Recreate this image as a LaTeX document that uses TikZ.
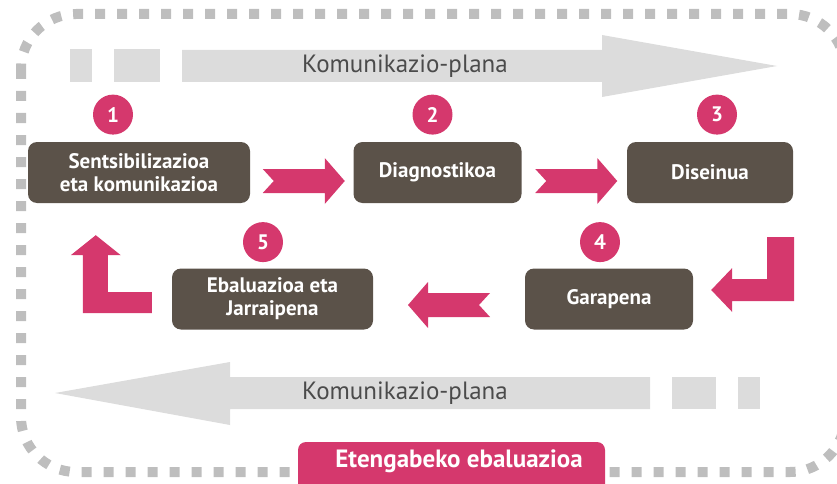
\documentclass[tikz,border=0pt]{standalone}
\usepackage{fontspec}
\setmainfont{PT Sans}
\usepackage{tikz}
\usetikzlibrary{positioning, calc}
\definecolor{rosa}{RGB}{213,56,109}
\definecolor{marroi}{RGB}{91,82,73}
\definecolor{grisa}{RGB}{220,220,220}
\definecolor{ertza}{RGB}{190,190,190}
\definecolor{testua}{RGB}{75,75,75}

\begin{document}
\begin{tikzpicture}[x=1pt, y=-1pt,
        box/.style={rectangle, rounded corners=9pt, fill=marroi, text=white,
                    font=\fontsize{21}{23}\selectfont\bfseries, minimum height=61pt,
                    align=center, inner sep=0pt},
        num/.style={circle, fill=rosa, text=white, minimum size=40pt, inner sep=0pt,
                    font=\fontsize{21}{21}\selectfont\bfseries},
        plan/.style={text=testua, font=\fontsize{25}{27}\selectfont},
        chev/.pic={\fill[rosa] (-41,-12) -- (21,-12) -- (21,-23) -- (41,0)
                    -- (21,23) -- (21,12) -- (-41,12) -- (-30,0) -- cycle;}]
      \useasboundingbox (0,0) rectangle (837,484);

      % dashed frame
      \draw[ertza, line width=10pt, dash pattern=on 10pt off 12pt, rounded corners=55pt]
        (21,14) rectangle (845,472);

      % communication plan arrows
      \fill[grisa] (70,49) rectangle (92,82);
      \fill[grisa] (114,49) rectangle (160,82);
      \fill[grisa] (182,50) -- (602,50) -- (602,35) -- (777,66) -- (602,97) -- (602,82) -- (182,82) -- cycle;
      \node[plan] (plangoi) at (405,66) {Komunikazio-plana};

      \fill[grisa] (55,393) -- (230,362) -- (230,377) -- (650,377) -- (650,409) -- (230,409) -- (230,425) -- cycle;
      \fill[grisa] (672,377) rectangle (716,409);
      \fill[grisa] (738,377) rectangle (760,409);
      \node[plan] (planbehe) at (405,393) {Komunikazio-plana};

      % steps
      \node[box, minimum width=222pt] (sents) at (139,172.5) {Sentsibilizazioa\\eta komunikazioa};
      \node[box, minimum width=168pt] (diag) at (437.5,172.5) {Diagnostikoa};
      \node[box, minimum width=166pt] (dis) at (710,172.5) {Diseinua};
      \node[box, minimum width=168pt] (gar) at (609,299) {Garapena};
      \node[box, minimum width=201pt] (ebal) at (272.5,299) {Ebaluazioa eta\\Jarraipena};

      \node[num, above=7pt of sents, xshift=-26pt] (n1) {1};
      \node[num, above=7pt of diag, xshift=-5pt] (n2) {2};
      \node[num, above=7pt of dis, xshift=7pt] (n3) {3};
      \node[num, above=6pt of gar, xshift=-9pt] (n4) {4};
      \node[num, above=6pt of ebal, xshift=-9.5pt] (n5) {5};

      % flow arrows
      \pic at ($(sents.east)!0.5!(diag.west)+(2,8.5)$) {chev};
      \pic at ($(diag.east)!0.5!(dis.west)+(2,8.5)$) {chev};
      \pic[rotate=180] at ($(ebal.east)!0.5!(gar.west)+(0,6)$) {chev};

      \coordinate (t34) at ($(gar.east)+(18,-9)$);
      \fill[rosa, shift={(t34)}] (0,0) -- (21,-22) -- (21,-11) -- (56,-11) -- (56,-53)
        -- (83,-53) -- (83,11) -- (21,11) -- (21,22) -- cycle;
      \coordinate (t51) at ($(sents.south west)+(68,32)$);
      \fill[rosa, shift={(t51)}] (0,0) -- (25,20) -- (12,20) -- (12,57) -- (56,57)
        -- (56,78) -- (-13,78) -- (-13,20) -- (-25,20) -- cycle;

      % continuous evaluation
      \fill[rosa, rounded corners=8pt] (298,442) rectangle (605,500);
      \node[text=white, font=\fontsize{25}{27}\selectfont\bfseries] (eten) at (459,461) {Etengabeko ebaluazioa};
    \end{tikzpicture}
\end{document}
